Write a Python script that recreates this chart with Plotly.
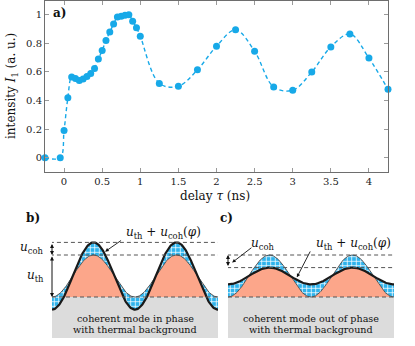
import numpy as np
import plotly.graph_objects as go

# ---------------- data: panel a) ----------------
delay_ns = [-0.25, -0.05, 0.00, 0.05, 0.10, 0.15, 0.20, 0.25, 0.30, 0.35, 0.40, 0.45,
            0.50, 0.55, 0.60, 0.65, 0.70, 0.75, 0.80, 0.85, 0.90, 0.95, 1.00, 1.25,
            1.50, 1.75, 2.00, 2.25, 2.50, 2.75, 3.00, 3.25, 3.50, 3.75, 4.00, 4.25]
intensity = [0.0, 0.0, 0.19, 0.42, 0.565, 0.555, 0.54, 0.55, 0.568, 0.59, 0.625, 0.69,
             0.75, 0.82, 0.88, 0.935, 0.985, 0.99, 0.997, 1.0, 0.955, 0.91, 0.85, 0.52,
             0.50, 0.615, 0.78, 0.895, 0.745, 0.495, 0.472, 0.60, 0.775, 0.866, 0.697, 0.479]
x_ticks = [0, 0.5, 1, 1.5, 2, 2.5, 3, 3.5, 4]
x_tick_labels = ["0", "0.5", "1", "1.5", "2", "2.5", "3", "3.5", "4"]
y_ticks = [0, 0.2, 0.4, 0.6, 0.8, 1]
y_tick_labels = ["0", "0.2", "0.4", "0.6", "0.8", "1"]

# ---------------- schematic model parameters (panels b, c) ----------------
schem_phase_range = [0.0, 2.0]     # two periods of the mode
u_th_amp = [1.0]                   # thermal modulation (peak above background)
u_coh_amp = [0.3]                  # coherent mode amplitude
coh_phase_sign = [1, -1]           # b) in phase, c) out of phase
box_text = [["coherent mode in phase", "with thermal background"],
            ["coherent mode out of phase", "with thermal background"]]

W, H = 415, 346
FONT = "DejaVu Serif"
CYAN = "#17a9e8"
HATCH_BG = "#2fb3ec"
SALMON = "#fca68a"
GRAY = "#dcdcdc"


def fx(p):
    return p / W


def fy(p):
    return 1 - p / H


def label(px, py, text, size=12, angle=0):
    return dict(x=fx(px), y=fy(py), xref="paper", yref="paper", text=text,
                showarrow=False, xanchor="center", yanchor="middle", textangle=angle,
                font=dict(family=FONT, size=size, color="#111"))


fig = go.Figure()

# ---- panel a) ----
fig.add_trace(go.Scatter(
    x=delay_ns, y=intensity, mode="lines+markers",
    line=dict(color=CYAN, width=1.4, dash="4px,3px", shape="spline", smoothing=1.0),
    marker=dict(color=CYAN, size=7),
    xaxis="x", yaxis="y", showlegend=False, cliponaxis=False))

axis_common = dict(showgrid=False, zeroline=False, showline=True, linecolor="#6e6e6e",
                   linewidth=1, ticks="inside", ticklen=4, tickcolor="#9a9a9a",
                   mirror="ticks", tickfont=dict(family=FONT, size=10, color="#222"))

fig.update_layout(
    xaxis=dict(domain=[fx(45), fx(388)], range=[-0.25, 4.25], tickmode="array",
               tickvals=x_ticks, ticktext=x_tick_labels, anchor="y", **axis_common),
    yaxis=dict(domain=[fy(172), fy(0.5)], range=[-0.1, 1.1], tickmode="array",
               tickvals=y_ticks, ticktext=y_tick_labels, anchor="x", **axis_common),
)

# ---- panels b) and c) ----
phi = np.linspace(schem_phase_range[0], schem_phase_range[1], 241)
base_cos = np.cos(2 * np.pi * phi)
thermal = u_th_amp[0] * (1 - base_cos) / 2

y_bottom_px, y_top_px = 342, 205
baseline_px, unit_px = 297, 42
y_sch_range = [(baseline_px - y_bottom_px) / unit_px, (baseline_px - y_top_px) / unit_px]
gray_depth = (338 - baseline_px) / unit_px

panel_x_px = [(52, 218), (228, 394)]
shapes = []
annotations = []

for i, sign in enumerate(coh_phase_sign):
    xa = "x%d" % (i + 2)
    ya = "y%d" % (i + 2)
    total = thermal - sign * u_coh_amp[0] * base_cos
    fig.update_layout(**{
        "xaxis%d" % (i + 2): dict(domain=[fx(panel_x_px[i][0]), fx(panel_x_px[i][1])],
                                  range=schem_phase_range, visible=False, anchor=ya),
        "yaxis%d" % (i + 2): dict(domain=[fy(y_bottom_px), fy(y_top_px)],
                                  range=y_sch_range, visible=False, anchor=xa),
    })
    # gray background box
    shapes.append(dict(type="rect", xref=xa, yref=ya, x0=schem_phase_range[0],
                       x1=schem_phase_range[1], y0=-gray_depth, y1=0,
                       fillcolor=GRAY, line=dict(width=0), layer="below"))
    # thermal (orange) region
    fig.add_trace(go.Scatter(x=phi, y=thermal, mode="lines", fill="tozeroy",
                             fillcolor=SALMON, line=dict(width=0),
                             xaxis=xa, yaxis=ya, showlegend=False, hoverinfo="skip"))
    # coherent contribution (hatched) between thermal and total
    fig.add_trace(go.Scatter(x=phi, y=total, mode="lines", fill="tonexty",
                             fillpattern=dict(shape="+", bgcolor=HATCH_BG, fgcolor="white",
                                              fgopacity=1, size=4.5, solidity=0.3),
                             line=dict(width=0),
                             xaxis=xa, yaxis=ya, showlegend=False, hoverinfo="skip"))
    fig.add_trace(go.Scatter(x=phi, y=thermal, mode="lines",
                             line=dict(color="#3a3a3a", width=0.8),
                             xaxis=xa, yaxis=ya, showlegend=False, hoverinfo="skip"))
    fig.add_trace(go.Scatter(x=phi, y=total, mode="lines",
                             line=dict(color="#1a1a1a", width=2.2),
                             xaxis=xa, yaxis=ya, showlegend=False, hoverinfo="skip"))
    # dashed reference levels
    peak_total = u_th_amp[0] + sign * u_coh_amp[0]
    x_start = -0.025 if i == 0 else -0.095
    for lvl in [peak_total, u_th_amp[0]]:
        shapes.append(dict(type="line", xref=xa, yref=ya, x0=x_start, x1=schem_phase_range[1],
                           y0=lvl, y1=lvl, line=dict(color="#555", width=1, dash="4px,3px")))
    shapes.append(dict(type="line", xref=xa, yref=ya, x0=schem_phase_range[0],
                       x1=schem_phase_range[1], y0=0, y1=0,
                       line=dict(color="#555", width=1, dash="4px,3px")))
    # box text
    cx = (panel_x_px[i][0] + panel_x_px[i][1]) / 2
    for j, t in enumerate(box_text[i]):
        annotations.append(label(cx, 318 + 11 * j, t, size=9.6))
    # double arrow u_coh
    annotations.append(dict(x=0, y=u_th_amp[0], ax=0, ay=peak_total, xref=xa, yref=ya,
                            axref=xa, ayref=ya, text="", showarrow=True, arrowhead=2,
                            arrowside="end+start", arrowsize=0.8, arrowwidth=1,
                            arrowcolor="#111"))

# u_th double arrow in b)
annotations.append(dict(x=0, y=0, ax=0, ay=u_th_amp[0], xref="x2", yref="y2",
                        axref="x2", ayref="y2", text="", showarrow=True, arrowhead=2,
                        arrowside="end+start", arrowsize=0.8, arrowwidth=1, arrowcolor="#111"))

u_coh_txt = "<i>u</i><sub>coh</sub>"
u_th_txt = "<i>u</i><sub>th</sub>"
u_sum_txt = "<i>u</i><sub>th</sub> + <i>u</i><sub>coh</sub>(<i>φ</i>)"

annotations += [
    label(59.5, 12.5, "<b>a)</b>"),
    label(33, 218, "<b>b)</b>"),
    label(226, 218, "<b>c)</b>"),
    label(12, 86, "intensity <i>I</i><sub>1</sub> (a. u.)", angle=-90),
    label(215, 196, "delay <i>τ</i> (ns)"),
    label(31, 248, u_coh_txt),
    label(35, 276, u_th_txt),
    label(163, 233, u_sum_txt),
    dict(x=0.64, y=1.08, ax=0.85, ay=1.37, xref="x2", yref="y2", axref="x2", ayref="y2",
         text="", showarrow=True, arrowhead=2, arrowsize=0.8, arrowwidth=0.9,
         arrowcolor="#111"),
    label(262, 244, u_coh_txt),
    dict(x=0.05, y=0.82, ax=0.3, ay=1.2, xref="x3", yref="y3", axref="x3", ayref="y3",
         text="", showarrow=True, arrowhead=2, arrowsize=0.8, arrowwidth=0.9,
         arrowcolor="#111"),
    label(353, 244, u_sum_txt),
    dict(x=0.83, y=0.47, ax=1.0, ay=1.12, xref="x3", yref="y3", axref="x3", ayref="y3",
         text="", showarrow=True, arrowhead=2, arrowsize=0.8, arrowwidth=0.9,
         arrowcolor="#111"),
]

fig.update_layout(width=W, height=H, margin=dict(l=0, r=0, t=0, b=0),
                  paper_bgcolor="white", plot_bgcolor="white",
                  shapes=shapes, annotations=annotations, showlegend=False)

fig.write_html("out.html",
               config={"displayModeBar": False, "staticPlot": True},
               post_script="document.body.style.margin='0px';"
                           "document.body.style.padding='0px';"
                           "document.body.style.overflow='hidden';")
